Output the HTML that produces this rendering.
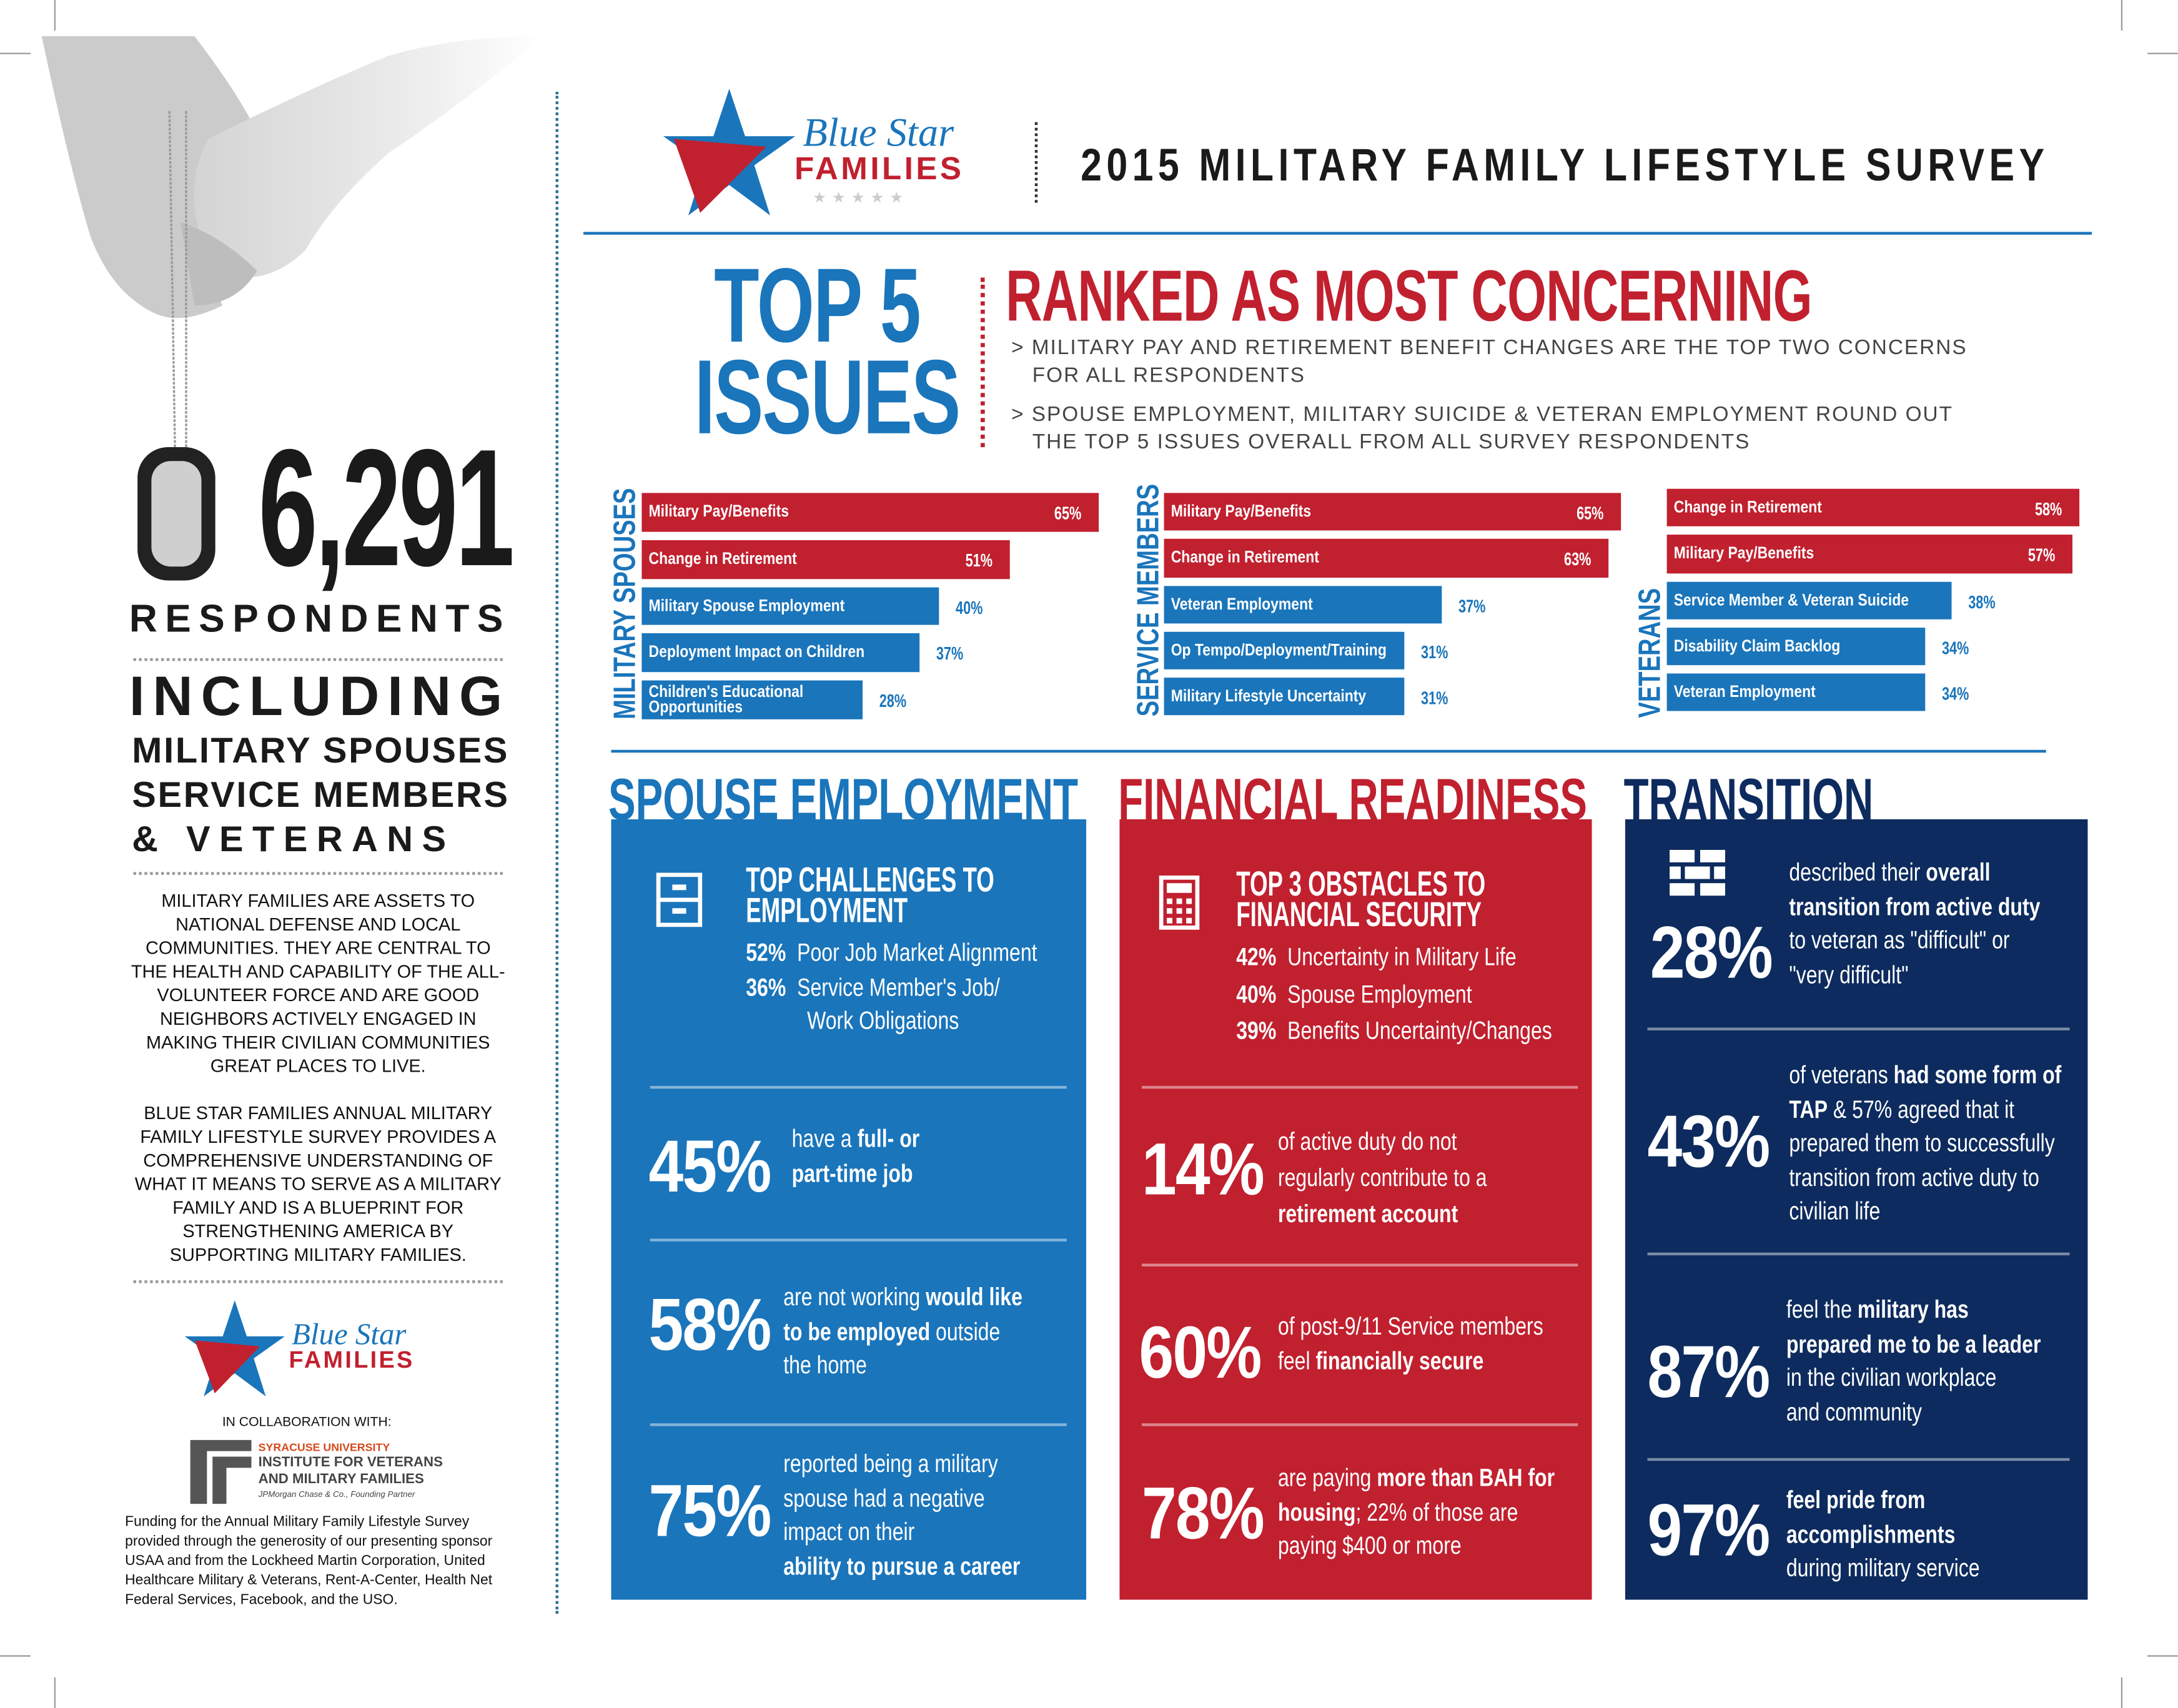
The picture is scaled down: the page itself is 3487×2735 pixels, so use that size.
<!DOCTYPE html>
<html><head><meta charset="utf-8">
<style>
html,body{margin:0;padding:0;background:#fff;}
body{width:3487px;height:2735px;overflow:hidden;position:relative;}
#root{position:absolute;left:0;top:0;width:1568px;height:1230px;transform-origin:0 0;transform:scale(2.22385,2.2236);font-family:"Liberation Sans",sans-serif;}
.a{position:absolute;}
.cond{font-family:"Liberation Sans",sans-serif;font-weight:bold;white-space:nowrap;transform-origin:0 0;}
.panel{position:absolute;color:#fff;}
.sep{position:absolute;height:2px;background:rgba(255,255,255,0.45);}
.big{position:absolute;font-weight:bold;font-size:53px;letter-spacing:-1px;color:#fff;white-space:nowrap;transform:scaleX(0.85);transform-origin:0 0;}
.txt{position:absolute;font-size:18px;line-height:24.5px;color:#fff;white-space:nowrap;transform:scaleX(0.8);transform-origin:0 0;}
.txt b{font-weight:bold;}
.blue{color:#1a75bb}.red{color:#c1202f}.navy{color:#0d2b5e}
</style></head><body>
<div id="root">

<div class="a" style="left:0;top:38px;width:22px;height:1px;background:#999"></div>
<div class="a" style="left:39px;top:0;width:1px;height:22px;background:#999"></div>
<div class="a" style="left:1527px;top:0;width:1px;height:22px;background:#999"></div>
<div class="a" style="left:1546px;top:38px;width:22px;height:1px;background:#999"></div>
<div class="a" style="left:0;top:1192px;width:22px;height:1px;background:#999"></div>
<div class="a" style="left:39px;top:1208px;width:1px;height:22px;background:#999"></div>
<div class="a" style="left:1527px;top:1208px;width:1px;height:22px;background:#999"></div>
<div class="a" style="left:1546px;top:1192px;width:22px;height:1px;background:#999"></div>

<svg class="a" style="left:0;top:20px" width="400" height="320">
<defs><linearGradient id="arm" x1="0" x2="1" y1="0" y2="0"><stop offset="0" stop-color="#d4d4d4"/><stop offset="0.6" stop-color="#ebebeb"/><stop offset="1" stop-color="#fff"/></linearGradient></defs>
<path d="M30 6 L140 6 Q170 45 185 75 Q150 85 140 115 Q150 170 160 200 Q130 215 110 205 Q80 190 65 150 Q50 100 30 6Z" fill="#cbcbcb"/>
<path d="M150 80 Q220 45 280 20 Q330 6 390 6 Q340 50 280 90 Q240 125 220 160 Q200 180 175 180 Q145 170 140 130 Q138 100 150 80Z" fill="url(#arm)"/>
<path d="M130 140 Q160 150 185 175 Q170 200 140 200Z" fill="#bdbdbd"/>
<line x1="122" y1="60" x2="126" y2="305" stroke="#999" stroke-width="1.5" stroke-dasharray="2 1"/>
<line x1="134" y1="60" x2="134" y2="305" stroke="#999" stroke-width="1.5" stroke-dasharray="2 1"/>
</svg>
<div class="a" style="left:99px;top:322px;width:56px;height:96px;border-radius:22px;background:#222"><div class="a" style="left:10px;top:10px;width:36px;height:76px;border-radius:14px;background:#cfcfcf"></div></div>

<div class="a cond" style="left:186px;top:306px;font-size:120px;line-height:120px;letter-spacing:-3px;color:#1a1a1a;transform:scaleX(0.64)">6,291</div>
<div class="a" style="left:93px;top:430px;font-size:28px;font-weight:bold;letter-spacing:5.6px;color:#1a1a1a">RESPONDENTS</div>
<div class="a" style="left:96px;top:474px;width:266px;border-top:2px dotted #999"></div>
<div class="a" style="left:93px;top:480px;font-size:40px;font-weight:bold;letter-spacing:5.8px;color:#1a1a1a">INCLUDING</div>
<div class="a" style="left:95px;top:524px;font-size:26px;font-weight:bold;letter-spacing:1.2px;line-height:32px;color:#1a1a1a;white-space:nowrap">MILITARY SPOUSES<br>SERVICE MEMBERS<br><span style="letter-spacing:6.5px">&amp; VETERANS</span></div>
<div class="a" style="left:96px;top:628px;width:266px;border-top:2px dotted #999"></div>
<div class="a" style="left:94px;top:640px;width:270px;text-align:center;font-size:13px;line-height:17px;color:#111">MILITARY FAMILIES ARE ASSETS TO NATIONAL DEFENSE AND LOCAL COMMUNITIES. THEY ARE CENTRAL TO THE HEALTH AND CAPABILITY OF THE ALL-VOLUNTEER FORCE AND ARE GOOD NEIGHBORS ACTIVELY ENGAGED IN MAKING THEIR CIVILIAN COMMUNITIES GREAT PLACES TO LIVE.</div>
<div class="a" style="left:90px;top:793px;width:278px;text-align:center;font-size:13px;line-height:17px;color:#111">BLUE STAR FAMILIES ANNUAL MILITARY FAMILY LIFESTYLE SURVEY PROVIDES A COMPREHENSIVE UNDERSTANDING OF WHAT IT MEANS TO SERVE AS A MILITARY FAMILY AND IS A BLUEPRINT FOR STRENGTHENING AMERICA BY SUPPORTING MILITARY FAMILIES.</div>
<div class="a" style="left:96px;top:922px;width:266px;border-top:2px dotted #999"></div>

<svg class="a" style="left:133px;top:935px" width="72" height="72" viewBox="0 0 100 100">
<polygon points="50,2 62,38 100,38 69,60 81,98 50,75 19,98 31,60 0,38 38,38" fill="#1a75bb"/>
<polygon points="10,42 75,48 30,95" fill="#c1202f"/>
</svg>
<div class="a" style="left:210px;top:948px;font-family:'Liberation Serif',serif;font-style:italic;font-size:22px;color:#1a75bb">Blue Star</div>
<div class="a" style="left:208px;top:970px;font-size:17px;font-weight:bold;letter-spacing:1.5px;color:#c1202f">FAMILIES</div>
<div class="a" style="left:160px;top:1019px;font-size:9.5px;color:#111">IN COLLABORATION WITH:</div>
<svg class="a" style="left:135px;top:1035px" width="50" height="50"><path d="M2 2 H46 V10 H14 V48 H2Z M18 14 H46 V22 H28 V48 H18Z" fill="#555"/></svg>
<div class="a" style="left:186px;top:1038px;font-size:8px;font-weight:bold;color:#d44a1c">SYRACUSE UNIVERSITY</div>
<div class="a" style="left:186px;top:1048px;font-size:10px;font-weight:bold;line-height:12px;color:#444">INSTITUTE FOR VETERANS<br>AND MILITARY FAMILIES</div>
<div class="a" style="left:186px;top:1074px;font-size:6px;font-style:italic;color:#444">JPMorgan Chase &amp; Co., Founding Partner</div>
<div class="a" style="left:90px;top:1090px;width:282px;font-size:10.3px;line-height:14px;color:#111">Funding for the Annual Military Family Lifestyle Survey provided through the generosity of our presenting sponsor USAA and from the Lockheed Martin Corporation, United Healthcare Military &amp; Veterans, Rent-A-Center, Health Net Federal Services, Facebook, and the USO.</div>

<div class="a" style="left:400px;top:66px;height:1096px;border-left:2px dotted #2b6f8f"></div>

<svg class="a" style="left:475px;top:62px" width="100" height="95" viewBox="0 0 100 100">
<polygon points="50,2 62,38 100,38 69,60 81,98 50,75 19,98 31,60 0,38 38,38" fill="#1a75bb"/>
<polygon points="8,40 78,46 28,96" fill="#c1202f"/>
</svg>
<div class="a" style="left:578px;top:80px;font-family:'Liberation Serif',serif;font-style:italic;font-size:29px;color:#1a75bb">Blue Star</div>
<div class="a" style="left:572px;top:108px;font-size:23px;font-weight:bold;letter-spacing:2px;color:#c1202f">FAMILIES</div>
<div class="a" style="left:585px;top:136px;font-size:11px;letter-spacing:4px;color:#ccc">★★★★★</div>
<div class="a" style="left:745px;top:88px;width:0;height:58px;border-left:2px dotted #333"></div>
<div class="a cond" style="left:778px;top:100px;font-size:33px;letter-spacing:4px;color:#1a1a1a;transform:scaleX(0.83)">2015 MILITARY FAMILY LIFESTYLE SURVEY</div>
<div class="a" style="left:420px;top:167px;width:1086px;height:2px;background:#1a75bb"></div>

<div class="a cond blue" style="left:500px;top:188px;font-size:76px;line-height:66px;letter-spacing:-1px;transform:scaleX(0.7)">&nbsp;TOP 5<br>ISSUES</div>
<div class="a" style="left:706px;top:200px;height:122px;border-left:3px dotted #c1202f"></div>
<div class="a cond red" style="left:724px;top:184px;font-size:52px;transform:scaleX(0.7);letter-spacing:-0.5px">RANKED AS MOST CONCERNING</div>
<div class="a" style="left:728px;top:241px;font-size:15px;letter-spacing:0.9px;line-height:20px;color:#444;white-space:nowrap">&gt; MILITARY PAY AND RETIREMENT BENEFIT CHANGES ARE THE TOP TWO CONCERNS<br>&nbsp;&nbsp;&nbsp;FOR ALL RESPONDENTS</div>
<div class="a" style="left:728px;top:289px;font-size:15px;letter-spacing:0.9px;line-height:20px;color:#444;white-space:nowrap">&gt; SPOUSE EMPLOYMENT, MILITARY SUICIDE &amp; VETERAN EMPLOYMENT ROUND OUT<br>&nbsp;&nbsp;&nbsp;THE TOP 5 ISSUES OVERALL FROM ALL SURVEY RESPONDENTS</div>

<div id="charts"></div>

<div class="a" style="left:440px;top:540px;width:1033px;height:2px;background:#1a75bb"></div>

<div class="a cond blue" style="left:438px;top:552px;font-size:42px;transform:scaleX(0.7)">SPOUSE EMPLOYMENT</div>
<div class="a cond red" style="left:805px;top:552px;font-size:42px;transform:scaleX(0.7)">FINANCIAL READINESS</div>
<div class="a cond navy" style="left:1169px;top:552px;font-size:42px;transform:scaleX(0.7)">TRANSITION</div>

<div class="panel" style="left:440px;top:590px;width:342px;height:562px;background:#1a75bb">
  <svg class="a" style="left:32px;top:38px" width="34" height="40"><rect x="2" y="2" width="30" height="36" fill="none" stroke="#fff" stroke-width="3"/><line x1="2" y1="20" x2="32" y2="20" stroke="#fff" stroke-width="3"/><rect x="12" y="9" width="10" height="4" fill="#fff"/><rect x="12" y="26" width="10" height="4" fill="#fff"/></svg>
  <div class="a cond" style="left:97px;top:33px;font-size:25px;line-height:22px;transform:scaleX(0.66)">TOP CHALLENGES TO<br>EMPLOYMENT</div>
  <div class="txt" style="left:97px;top:84px"><b>52%</b>&nbsp; Poor Job Market Alignment<br><b>36%</b>&nbsp; Service Member's Job/<br>&nbsp;&nbsp;&nbsp;&nbsp;&nbsp;&nbsp;&nbsp;&nbsp;&nbsp;&nbsp;&nbsp;Work Obligations</div>
  <div class="sep" style="left:28px;top:192px;width:300px"></div>
  <div class="big" style="left:27px;top:220px">45%</div>
  <div class="txt" style="left:130px;top:218px">have a <b>full- or<br>part-time job</b></div>
  <div class="sep" style="left:28px;top:302px;width:300px"></div>
  <div class="big" style="left:27px;top:334px">58%</div>
  <div class="txt" style="left:124px;top:332px">are not working <b>would like<br>to be employed</b> outside<br>the home</div>
  <div class="sep" style="left:28px;top:435px;width:300px"></div>
  <div class="big" style="left:27px;top:468px">75%</div>
  <div class="txt" style="left:124px;top:452px">reported being a military<br>spouse had a negative<br>impact on their<br><b>ability to pursue a career</b></div>
</div>

<div class="panel" style="left:806px;top:590px;width:340px;height:562px;background:#c1202f">
  <svg class="a" style="left:28px;top:40px" width="30" height="40"><rect x="2" y="2" width="26" height="36" fill="none" stroke="#fff" stroke-width="3"/><rect x="6" y="6" width="18" height="7" fill="#fff"/><g fill="#fff"><rect x="6" y="17" width="4" height="4"/><rect x="13" y="17" width="4" height="4"/><rect x="20" y="17" width="4" height="4"/><rect x="6" y="24" width="4" height="4"/><rect x="13" y="24" width="4" height="4"/><rect x="20" y="24" width="4" height="4"/><rect x="6" y="31" width="4" height="4"/><rect x="13" y="31" width="4" height="4"/><rect x="20" y="31" width="4" height="4"/></g></svg>
  <div class="a cond" style="left:84px;top:36px;font-size:25px;line-height:22px;transform:scaleX(0.66)">TOP 3 OBSTACLES TO<br>FINANCIAL SECURITY</div>
  <div class="txt" style="left:84px;top:86px;line-height:26.5px"><b>42%</b>&nbsp; Uncertainty in Military Life<br><b>40%</b>&nbsp; Spouse Employment<br><b>39%</b>&nbsp; Benefits Uncertainty/Changes</div>
  <div class="sep" style="left:16px;top:192px;width:314px"></div>
  <div class="big" style="left:16px;top:222px">14%</div>
  <div class="txt" style="left:114px;top:219px;line-height:26px">of active duty do not<br>regularly contribute to a<br><b>retirement account</b></div>
  <div class="sep" style="left:16px;top:320px;width:314px"></div>
  <div class="big" style="left:14px;top:354px">60%</div>
  <div class="txt" style="left:114px;top:353px">of post-9/11 Service members<br>feel <b>financially secure</b></div>
  <div class="sep" style="left:16px;top:435px;width:314px"></div>
  <div class="big" style="left:16px;top:470px">78%</div>
  <div class="txt" style="left:114px;top:462px">are paying <b>more than BAH for<br>housing</b>; 22% of those are<br>paying $400 or more</div>
</div>

<div class="panel" style="left:1170px;top:590px;width:333px;height:562px;background:#0d2b5e">
  <svg class="a" style="left:32px;top:22px" width="40" height="34"><g fill="#fff"><rect x="0" y="0" width="18" height="9"/><rect x="22" y="0" width="18" height="9"/><rect x="0" y="12" width="8" height="9"/><rect x="11" y="12" width="18" height="9"/><rect x="32" y="12" width="8" height="9"/><rect x="0" y="24" width="18" height="9"/><rect x="22" y="24" width="18" height="9"/></g></svg>
  <div class="big" style="left:18px;top:66px">28%</div>
  <div class="txt" style="left:118px;top:26px">described their <b>overall<br>transition from active duty</b><br>to veteran as "difficult" or<br>"very difficult"</div>
  <div class="sep" style="left:16px;top:150px;width:304px"></div>
  <div class="big" style="left:16px;top:202px">43%</div>
  <div class="txt" style="left:118px;top:172px">of veterans <b>had some form of<br>TAP</b> &amp; 57% agreed that it<br>prepared them to successfully<br>transition from active duty to<br>civilian life</div>
  <div class="sep" style="left:16px;top:312px;width:304px"></div>
  <div class="big" style="left:16px;top:368px">87%</div>
  <div class="txt" style="left:116px;top:341px">feel the <b>military has<br>prepared me to be a leader</b><br>in the civilian workplace<br>and community</div>
  <div class="sep" style="left:16px;top:460px;width:304px"></div>
  <div class="big" style="left:16px;top:482px">97%</div>
  <div class="txt" style="left:116px;top:478px"><b>feel pride from<br>accomplishments</b><br>during military service</div>
</div>

</div>
<script>
const spouseLabels = ["Military Pay/Benefits","Change in Retirement","Military Spouse Employment","Deployment Impact on Children","Children's Educational Opportunities"];
const spouseValues = [65,51,40,37,28];
const memberLabels = ["Military Pay/Benefits","Change in Retirement","Veteran Employment","Op Tempo/Deployment/Training","Military Lifestyle Uncertainty"];
const memberValues = [65,63,37,31,31];
const veteranLabels = ["Change in Retirement","Military Pay/Benefits","Service Member & Veteran Suicide","Disability Claim Backlog","Veteran Employment"];
const veteranValues = [58,57,38,34,34];
const groupTitles = ["MILITARY SPOUSES","SERVICE MEMBERS","VETERANS"];

const root = document.getElementById('charts');
function xw(v){ return 30 + v*4.6; }
function drawGroup(title, labels, values, x0, y0, rowH, titleX, titleBottom){
  const t = document.createElement('div');
  
  
  t.className = 'a cond blue';
  t.textContent = title;
  t.style.cssText = `left:${titleX}px;top:${titleBottom}px;font-size:22px;white-space:nowrap;transform:rotate(-90deg) scaleX(0.78);transform-origin:0 0;`;
  root.appendChild(t);
  values.forEach((v,i)=>{
    const red = i < 2;
    const y = y0 + i*rowH;
    const w = xw(v);
    const b = document.createElement('div');
    
    
    b.className = 'a';
    b.style.cssText = `left:${x0}px;top:${y}px;width:${w}px;height:${rowH-6}px;background:${red?'#c1202f':'#1a75bb'};`;
    const l = document.createElement('div');
    
    
    l.className = 'a';
    const twoLine = labels[i].length > 32 && w < 180;
    if (twoLine) l.innerHTML = "Children's Educational<br>Opportunities"; else l.textContent = labels[i];
    l.style.cssText = `left:5px;top:${twoLine?3:8}px;font-size:12px;line-height:11px;font-weight:bold;color:#fff;white-space:nowrap;transform:scaleX(0.86);transform-origin:0 0;`;
    b.appendChild(l);
    root.appendChild(b);
    const p = document.createElement('div');
    
    
    p.className = 'a cond';
    p.textContent = v + '%';
    if (red) p.style.cssText = `left:${x0+w-32}px;top:${y+7}px;font-size:13px;color:#fff;transform:scaleX(0.75);`;
    else p.style.cssText = `left:${x0+w+12}px;top:${y+7}px;font-size:13px;color:#1a75bb;transform:scaleX(0.75);`;
    root.appendChild(p);
  });
}
drawGroup(groupTitles[0], spouseLabels, spouseValues, 462, 355, 33.8, 437, 518);
drawGroup(groupTitles[1], memberLabels, memberValues, 838, 355, 33.3, 814, 516);
drawGroup(groupTitles[2], veteranLabels, veteranValues, 1200, 352, 33.3, 1175, 517);
</script>
</body></html>
